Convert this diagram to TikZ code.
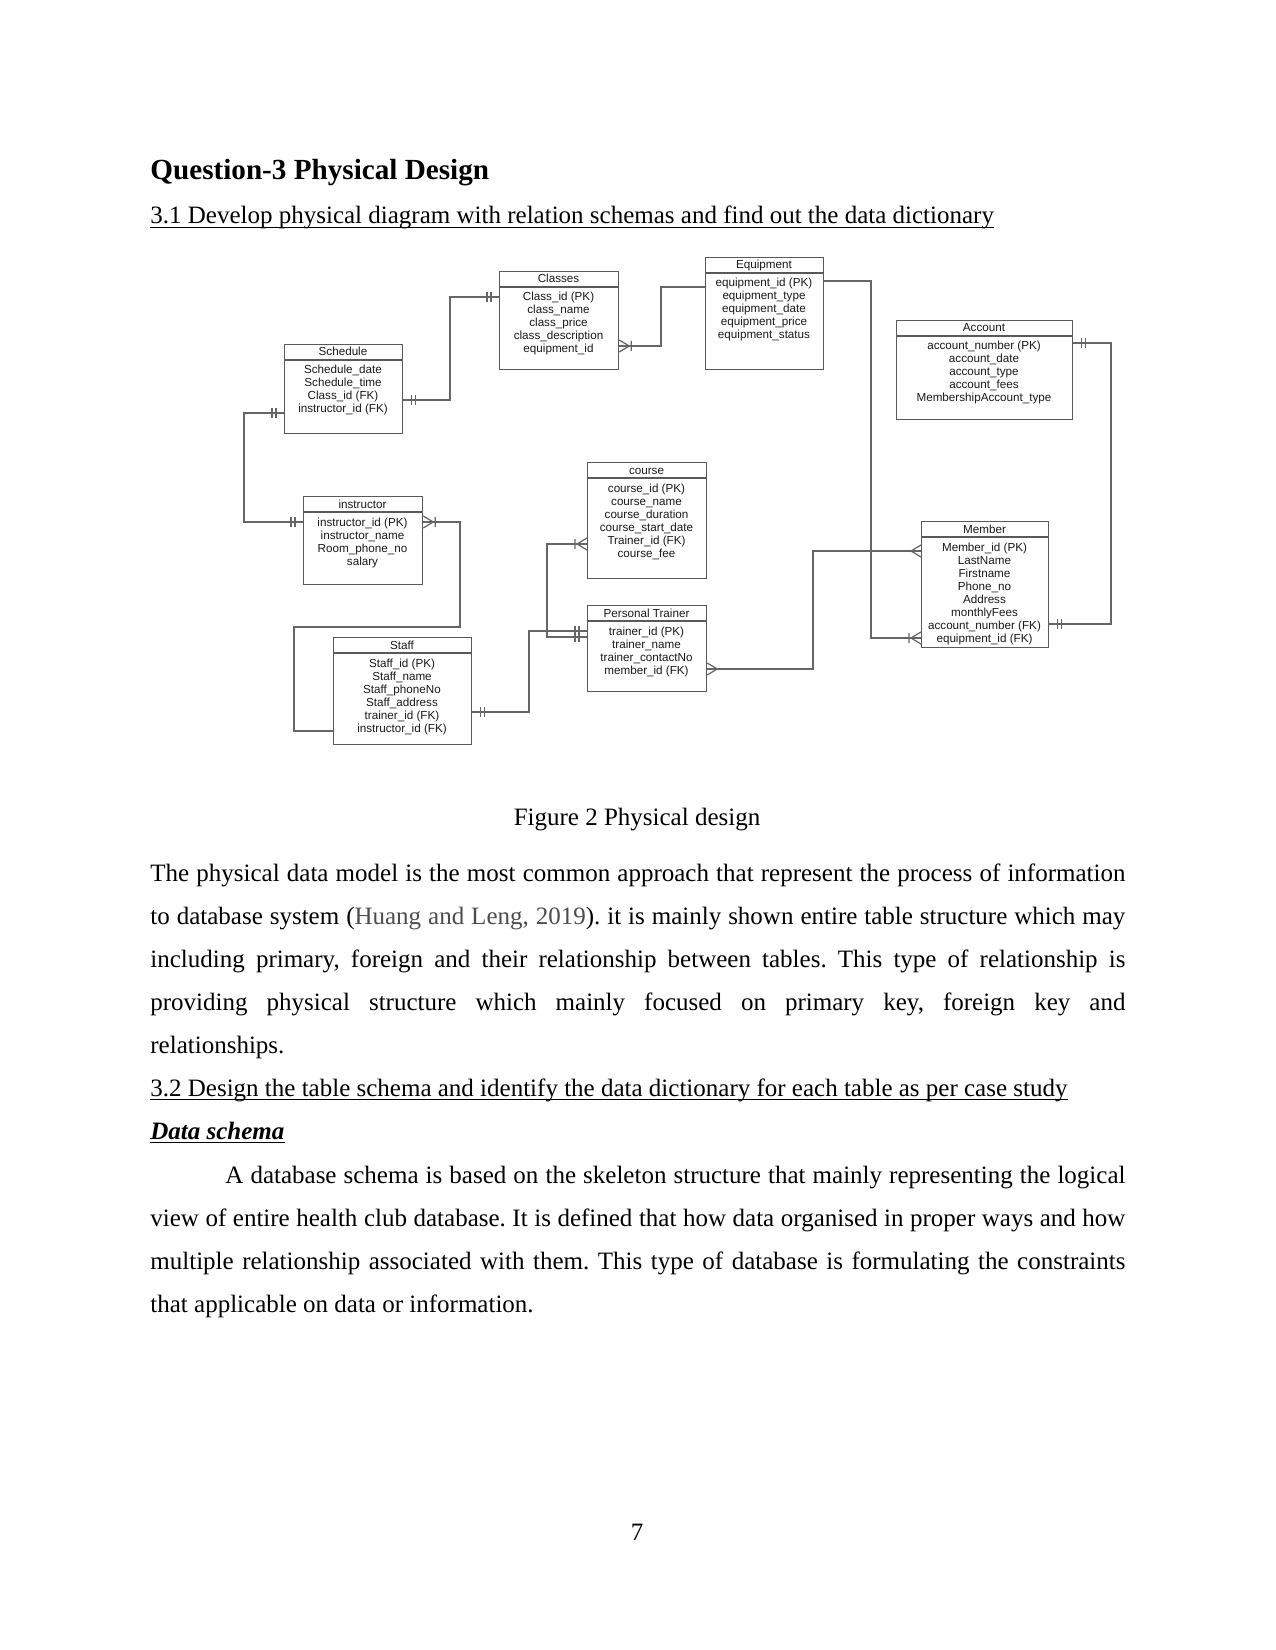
\documentclass[tikz,border=0pt]{standalone}
\usepackage{fontspec}
\setmainfont{Liberation Serif}
\newfontfamily\erfont{Liberation Sans}

% one table: name, left, top, width, height, title, rows
\newcommand\ertable[7]{%
  \node[tbl, minimum width=#4*0.48pt, minimum height=#5*0.48pt, anchor=north west] (#1) at (#2,#3) {};
  \draw[tbl] (#2,#3+16) -- ++(#4,0);
  \node[tbltext] (#1-t) at (#2+#4/2,#3+12) {#6};
  \foreach \r [count=\i] in {#7}
    \node[tbltext] (#1-\i) at (#2+#4/2,#3+17+13*\i) {\r};
}

\begin{document}
\begin{tikzpicture}[x=0.48pt, y=-0.48pt,
  every node/.style={inner sep=0pt},
  body/.style={font=\fontsize{12}{20.69}\selectfont},
  para/.style={body, text width=468pt, align=justify, anchor=north west},
  uline/.style={line width=0.5pt},
  tbl/.style={draw=black!65, line width=0.6pt},
  tbltext/.style={anchor=base, font=\erfont\fontsize{5.6}{6.7}\selectfont, text=black!90},
  conn/.style={draw=black!60, line width=0.6pt},
  mandone/.pic={\draw[conn] (8,-5) -- (8,5) (12,-5) -- (12,5);},
  crowmany/.pic={\draw[conn] (0,-6) -- (10,0) -- (0,6);},
  crowone/.pic={\draw[conn] (0,-6) -- (10,0) -- (0,6) (12,-5) -- (12,5);}]
  \useasboundingbox (0,0) rectangle (1275,1650);

  % headings
  \node[body, anchor=base west, font=\fontsize{14}{17}\selectfont\bfseries] (q3) at (150,180) {Question-3 Physical Design};
  \node[body, anchor=base west] (s31) at (150,224) {3.1 Develop physical diagram with relation schemas and find out the data dictionary\ };
  \draw[uline] ([yshift=-1.6pt]s31.base west) -- ([yshift=-1.6pt]s31.base east);

  % tables
  \ertable{sch}{284}{344}{118}{89}{Schedule}{Schedule\_date, Schedule\_time, Class\_id (FK), instructor\_id (FK)}
  \ertable{cls}{499}{271}{119}{98}{Classes}{Class\_id (PK), class\_name, class\_price, class\_description, equipment\_id}
  \ertable{eqp}{705}{257}{118}{112}{Equipment}{equipment\_id (PK), equipment\_type, equipment\_date, equipment\_price, equipment\_status}
  \ertable{acc}{896}{320}{176}{99}{Account}{account\_number (PK), account\_date, account\_type, account\_fees, MembershipAccount\_type}
  \ertable{ins}{303}{496}{119}{88}{instructor}{instructor\_id (PK), instructor\_name, Room\_phone\_no, salary}
  \ertable{crs}{587}{462}{119}{116}{course}{course\_id (PK), course\_name, course\_duration, course\_start\_date, Trainer\_id (FK), course\_fee}
  \ertable{pt}{587}{605}{119}{86}{Personal Trainer}{trainer\_id (PK), trainer\_name, trainer\_contactNo, member\_id (FK)}
  \ertable{mem}{921}{521}{127}{126}{Member}{Member\_id (PK), LastName, Firstname, Phone\_no, Address, monthlyFees, account\_number (FK), equipment\_id (FK)}
  \ertable{stf}{333}{637}{138}{107}{Staff}{Staff\_id (PK), Staff\_name, Staff\_phoneNo, Staff\_address, trainer\_id (FK), instructor\_id (FK)}

  % connectors
  \draw[conn] (sch.east |- 0,400) -- (450,400) |- (cls.west |- 0,297);
  \draw[conn] (cls.east |- 0,346) -- (661,346) |- (eqp.west |- 0,287);
  \draw[conn] (eqp.east |- 0,281) -- (871,281) |- (mem.west |- 0,638);
  \draw[conn] (acc.east |- 0,343) -- (1111,343) |- (mem.east |- 0,624);
  \draw[conn] (pt.east |- 0,669) -- (813,669) |- (mem.west |- 0,551);
  \draw[conn] (crs.west |- 0,544) -- (547,544) |- (pt.west |- 0,637);
  \draw[conn] (stf.east |- 0,712) -- (529,712) |- (pt.west |- 0,631);
  \draw[conn] (ins.east |- 0,522) -- (460,522) -- (460,627) -| (294,731) -- (stf.west |- 0,731);
  \draw[conn] (sch.west |- 0,413) -- (244,413) |- (ins.west |- 0,522);

  % end marks
  \pic at (sch.east |- 0,400) {mandone};
  \pic[rotate=180] at (cls.west |- 0,297) {mandone};
  \pic at (cls.east |- 0,346) {crowone};
  \pic[rotate=180] at (mem.west |- 0,638) {crowone};
  \pic at (acc.east |- 0,343) {mandone};
  \pic at (mem.east |- 0,624) {mandone};
  \pic at (pt.east |- 0,669) {crowmany};
  \pic[rotate=180] at (mem.west |- 0,551) {crowmany};
  \pic[rotate=180] at (crs.west |- 0,544) {crowone};
  \pic[rotate=180] at (pt.west |- 0,637) {mandone};
  \pic at (stf.east |- 0,712) {mandone};
  \pic[rotate=180] at (pt.west |- 0,631) {mandone};
  \pic at (ins.east |- 0,522) {crowone};
  \pic[rotate=180] at (sch.west |- 0,413) {mandone};
  \pic[rotate=180] at (ins.west |- 0,522) {mandone};

  % caption and text
  \node[body, anchor=base] (cap) at (637,825) {Figure 2 Physical design};
  \node[para] (p1) at (150,850.8) {%
    \parindent=0pt\tolerance=10000\hyphenpenalty=10000\frenchspacing
    \strut The physical data model is the most common approach that represent the process of information\linebreak
    to database system ({\color{black!70}Huang and Leng, 2019}). it is mainly shown entire table structure which may\linebreak
    including primary, foreign and their relationship between tables. This type of relationship is\linebreak
    providing physical structure which mainly focused on primary key, foreign key and\linebreak
    relationships.};
  \node[body, anchor=base west] (s32) at (150,1096.5) {3.2 Design the table schema and identify the data dictionary for each table as per case study};
  \draw[uline] ([yshift=-1.6pt]s32.base west) -- ([yshift=-1.6pt]s32.base east);
  \node[body, anchor=base west, font=\fontsize{12}{20.69}\selectfont\bfseries\itshape] (ds) at (150,1139.6) {Data schema};
  \draw[uline] ([yshift=-1.6pt]ds.base west) -- ([yshift=-1.6pt]ds.base east);
  \node[para] (p2) at (150,1152.5) {%
    \parindent=0pt\tolerance=10000\hyphenpenalty=10000\frenchspacing
    \strut\hspace*{36pt}A database schema is based on the skeleton structure that mainly representing the logical\linebreak
    view of entire health club database. It is defined that how data organised in proper ways and how\linebreak
    multiple relationship associated with them. This type of database is formulating the constraints\linebreak
    that applicable on data or information.};
  \node[body, anchor=base] (pg) at (637,1540) {7};
\end{tikzpicture}
\end{document}
